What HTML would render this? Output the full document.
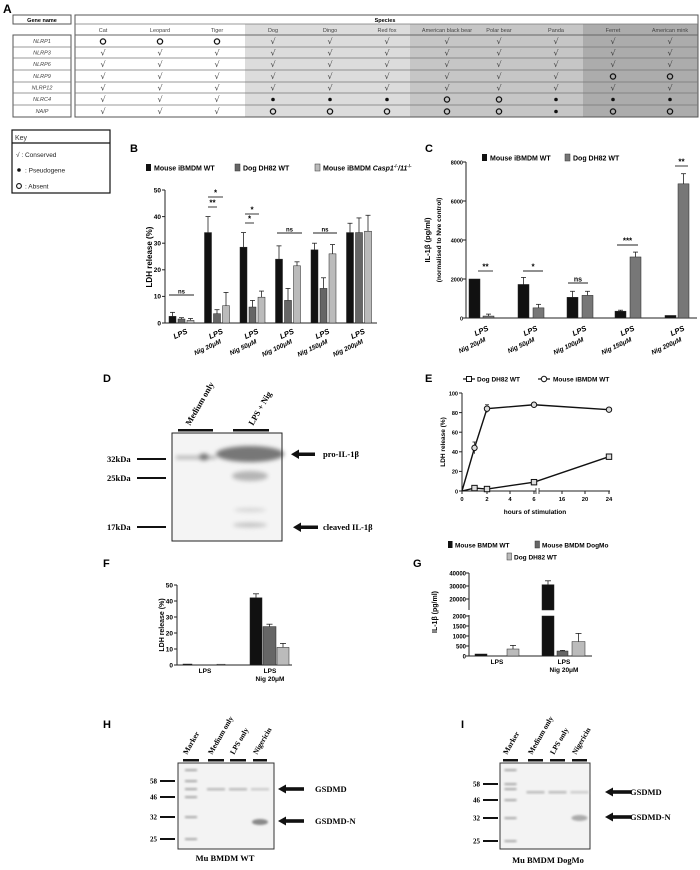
<!DOCTYPE html>
<html><head><meta charset="utf-8"><style>
html,body{margin:0;padding:0;background:#fff;width:700px;height:870px;overflow:hidden}
svg{display:block}
.s{font-family:"Liberation Sans",sans-serif}
.b{font-family:"Liberation Sans",sans-serif;font-weight:bold}
.r{font-family:"Liberation Serif",serif;font-weight:bold}
</style></head><body>
<svg width="700" height="870" viewBox="0 0 700 870" xmlns="http://www.w3.org/2000/svg">
<!-- Panel A -->
<text x="3" y="13" class="b" font-size="12">A</text>
<rect x="13" y="15" width="58" height="9" fill="#fff" stroke="#555" stroke-width="1"/>
<text x="42" y="22" class="b" font-size="5.5" text-anchor="middle">Gene name</text>
<rect x="245" y="24" width="165" height="93" fill="#dcdcdc"/>
<rect x="410" y="24" width="173" height="93" fill="#c6c6c6"/>
<rect x="583" y="24" width="115" height="93" fill="#acacac"/>
<rect x="75" y="15" width="623" height="102" fill="none" stroke="#555" stroke-width="1"/>
<line x1="75" y1="24" x2="698" y2="24" stroke="#777" stroke-width="0.8"/>
<line x1="75" y1="35" x2="698" y2="35" stroke="#666" stroke-width="1"/>
<g stroke="#777" stroke-width="0.8">
<line x1="75" y1="47" x2="698" y2="47"/><line x1="75" y1="58" x2="698" y2="58"/><line x1="75" y1="70" x2="698" y2="70"/><line x1="75" y1="82" x2="698" y2="82"/><line x1="75" y1="93" x2="698" y2="93"/><line x1="75" y1="105" x2="698" y2="105"/>
</g>
<rect x="13" y="35" width="58" height="82" fill="none" stroke="#555" stroke-width="1"/>
<g stroke="#777" stroke-width="0.8">
<line x1="13" y1="47" x2="71" y2="47"/><line x1="13" y1="58" x2="71" y2="58"/><line x1="13" y1="70" x2="71" y2="70"/><line x1="13" y1="82" x2="71" y2="82"/><line x1="13" y1="93" x2="71" y2="93"/><line x1="13" y1="105" x2="71" y2="105"/>
</g>
<text x="385" y="22" class="b" font-size="5.5" text-anchor="middle">Species</text>
<g class="s" font-size="5.5" fill="#444" text-anchor="middle">
<text x="103" y="32">Cat</text><text x="160" y="32">Leopard</text><text x="217" y="32">Tiger</text><text x="273" y="32">Dog</text><text x="330" y="32">Dingo</text><text x="387" y="32">Red fox</text><text x="447" y="32">American black bear</text><text x="499" y="32">Polar bear</text><text x="556" y="32">Panda</text><text x="613" y="32">Ferret</text><text x="670" y="32">American mink</text>
</g>
<g class="s" font-size="5.5" fill="#444" text-anchor="middle" font-style="italic">
<text x="42" y="43">NLRP1</text><text x="42" y="54.5">NLRP3</text><text x="42" y="66">NLRP6</text><text x="42" y="78">NLRP9</text><text x="42" y="89.5">NLRP12</text><text x="42" y="101">NLRC4</text><text x="42" y="113">NAIP</text>
</g>
<g id="tbl"></g>
<!-- Key -->
<rect x="12" y="130" width="98" height="63" fill="#fff" stroke="#111" stroke-width="1.2"/>
<line x1="12" y1="143" x2="110" y2="143" stroke="#111" stroke-width="1.2"/>
<text x="15" y="140" class="s" font-size="7" fill="#333">Key</text>
<text x="16" y="157" class="s" font-size="6.5" fill="#222">√  : Conserved</text>
<circle cx="19" cy="170" r="1.8" fill="#111"/><text x="25" y="172.5" class="s" font-size="6.5" fill="#222">: Pseudogene</text>
<circle cx="19" cy="186" r="2.4" fill="none" stroke="#111" stroke-width="1.1"/><text x="25" y="188.5" class="s" font-size="6.5" fill="#222">: Absent</text>

<!-- Panel B -->
<text x="130" y="152" class="b" font-size="11">B</text>
<g class="b" font-size="7">
<rect x="146" y="164" width="5" height="7" fill="#111"/><text x="154" y="170.5">Mouse iBMDM WT</text>
<rect x="235" y="164" width="5" height="7" fill="#666" stroke="#333" stroke-width="0.5"/><text x="243" y="170.5">Dog DH82 WT</text>
<rect x="315" y="164" width="5" height="7" fill="#bbb" stroke="#333" stroke-width="0.5"/><text x="323" y="170.5">Mouse iBMDM <tspan font-style="italic">Casp1</tspan><tspan font-size="4.5" dy="-3">-/-</tspan><tspan dy="3" font-style="italic">/11</tspan><tspan font-size="4.5" dy="-3">-/-</tspan></text>
</g>
<g id="pB"></g>
<text transform="translate(152,257) rotate(-90)" class="b" font-size="8" text-anchor="middle">LDH release (%)</text>

<!-- Panel C -->
<text x="425" y="152" class="b" font-size="11">C</text>
<g class="b" font-size="7">
<rect x="482" y="154" width="5" height="7" fill="#111"/><text x="490" y="160.5">Mouse iBMDM WT</text>
<rect x="565" y="154" width="5" height="7" fill="#777" stroke="#333" stroke-width="0.5"/><text x="573" y="160.5">Dog DH82 WT</text>
</g>
<g id="pC"></g>
<text transform="translate(430,240) rotate(-90)" class="b" font-size="7.5" text-anchor="middle">IL-1β (pg/ml)</text>
<text transform="translate(441,240) rotate(-90)" class="b" font-size="6.5" text-anchor="middle">(normalised to Nve control)</text>

<!-- Panel D -->
<text x="103" y="382" class="b" font-size="11">D</text>
<text transform="translate(190,426) rotate(-60)" class="r" font-size="8.5">Medium only</text>
<text transform="translate(253,426) rotate(-60)" class="r" font-size="8.5">LPS + Nig</text>
<rect x="178" y="429" width="35" height="2.5" fill="#111"/>
<rect x="233" y="429" width="36" height="2.5" fill="#111"/>
<defs>
<filter id="bl" x="-50%" y="-50%" width="200%" height="200%"><feGaussianBlur stdDeviation="2"/></filter>
<filter id="bl1" x="-50%" y="-50%" width="200%" height="200%"><feGaussianBlur stdDeviation="1"/></filter>
</defs>
<rect x="172" y="433" width="110" height="108" fill="#f4f4f4" stroke="#222" stroke-width="1"/>
<g filter="url(#bl)">
<rect x="176" y="456" width="40" height="3" fill="#aaa"/>
<ellipse cx="204" cy="457" rx="5" ry="3.5" fill="#777"/>
<ellipse cx="250" cy="454" rx="34" ry="8" fill="#777"/>
<ellipse cx="250" cy="476" rx="18" ry="5" fill="#b5b5b5"/>
<ellipse cx="250" cy="510" rx="16" ry="2" fill="#d5d5d5"/>
<ellipse cx="250" cy="525" rx="17" ry="2.5" fill="#c5c5c5"/>
</g>
<rect x="172" y="433" width="110" height="108" fill="none" stroke="#222" stroke-width="1"/>
<g class="r" font-size="8.5">
<text x="107" y="462">32kDa</text><text x="107" y="481">25kDa</text><text x="107" y="530">17kDa</text>
<text x="323" y="457">pro-IL-1β</text><text x="323" y="530">cleaved IL-1β</text>
</g>
<g fill="#111">
<rect x="137" y="458" width="29" height="2"/><rect x="137" y="477" width="29" height="2"/><rect x="137" y="526" width="29" height="2"/>
<rect x="298" y="452.5" width="17" height="3.5"/><polygon points="291,454.3 299,449.5 299,459"/>
<rect x="300" y="525.5" width="18" height="3.5"/><polygon points="293,527.3 301,522.5 301,532"/>
</g>

<!-- Panel E -->
<text x="425" y="382" class="b" font-size="11">E</text>
<g class="b" font-size="6.5">
<line x1="463" y1="379" x2="475" y2="379" stroke="#111" stroke-width="1.2"/><rect x="466.5" y="376.5" width="5" height="5" fill="#fff" stroke="#111" stroke-width="1"/><text x="477" y="381.5">Dog DH82 WT</text>
<line x1="538" y1="379" x2="550" y2="379" stroke="#111" stroke-width="1.2"/><circle cx="544" cy="379" r="2.7" fill="#fff" stroke="#111" stroke-width="1"/><text x="553" y="381.5">Mouse iBMDM WT</text>
</g>
<g id="pE"></g>
<text x="535" y="514" class="b" font-size="6.5" text-anchor="middle">hours of stimulation</text>
<text transform="translate(445,442) rotate(-90)" class="b" font-size="6.5" text-anchor="middle">LDH release (%)</text>

<!-- Panel F -->
<text x="103" y="567" class="b" font-size="11">F</text>
<g id="pF"></g>
<text transform="translate(164,625) rotate(-90)" class="b" font-size="7" text-anchor="middle">LDH release (%)</text>

<!-- Panel G -->
<text x="413" y="567" class="b" font-size="11">G</text>
<g class="b" font-size="6.5">
<rect x="448" y="541" width="4.5" height="7" fill="#111"/><text x="455" y="547.5">Mouse  BMDM WT</text>
<rect x="535" y="541" width="4.5" height="7" fill="#666" stroke="#333" stroke-width="0.5"/><text x="542" y="547.5">Mouse BMDM DogMo</text>
<rect x="507" y="553" width="4.5" height="7" fill="#bbb" stroke="#333" stroke-width="0.5"/><text x="514" y="559.5">Dog DH82 WT</text>
</g>
<g id="pG"></g>
<text transform="translate(437,612) rotate(-90)" class="b" font-size="7" text-anchor="middle">IL-1β (pg/ml)</text>

<!-- Panel H -->
<text x="103" y="728" class="b" font-size="11">H</text>
<g id="pH"></g>
<text x="225" y="861" class="r" font-size="8.5" text-anchor="middle">Mu BMDM WT</text>
<!-- Panel I -->
<text x="461" y="728" class="b" font-size="11">I</text>
<text x="548" y="863" class="r" font-size="8.5" text-anchor="middle">Mu BMDM DogMo</text>
</svg>
<script>
(function(){
var NS="http://www.w3.org/2000/svg";
function el(p,t,a,txt){var e=document.createElementNS(NS,t);for(var k in a)e.setAttribute(k,a[k]);if(txt!=null)e.textContent=txt;document.getElementById(p).appendChild(e);return e;}
// Table
var cols=[103,160,217,273,330,387,447,499,556,613,670];
var rows=[41,52.5,64,76,87.5,99,111];
var data=["OOOvvvvvvvv","vvvvvvvvvvv","vvvvvvvvvvv","vvvvvvvvvOO","vvvvvvvvvvv","vvv...OO...","vvvOOOOO.OO"];
for(var r=0;r<7;r++)for(var c=0;c<11;c++){var ch=data[r][c],x=cols[c],y=rows[r];
 if(ch=="v")el("tbl","text",{x:x,y:y+3,"font-size":"8","text-anchor":"middle","font-family":"DejaVu Sans, sans-serif",fill:"#333"},"√");
 else if(ch=="O")el("tbl","circle",{cx:x,cy:y+0.5,r:2.6,fill:"none",stroke:"#111","stroke-width":1.3});
 else el("tbl","circle",{cx:x,cy:y+0.5,r:1.8,fill:"#111"});}
function errbar(p,x,y1,y2,w){el(p,"line",{x1:x,y1:y1,x2:x,y2:y2,stroke:"#222","stroke-width":0.8});el(p,"line",{x1:x-w,y1:y2,x2:x+w,y2:y2,stroke:"#222","stroke-width":0.8});}
function bar(p,x,w,y0,y,fill){el(p,"rect",{x:x,y:y,width:w,height:y0-y,fill:fill,stroke:"#222","stroke-width":0.5});}
function ylab(p,x,y,t,fs){el(p,"text",{x:x,y:y+2.3,"text-anchor":"end","font-size":fs||6,"class":"b"},t);}
function rot(p,x,y,t,fs,ang){el(p,"text",{x:x,y:y,"text-anchor":"end","font-size":fs,"class":"b","font-style":"italic",transform:"rotate("+ang+" "+x+" "+y+")"},t);}
// B
var yB=function(v){return 323-v*2.66;};
el("pB","line",{x1:165,y1:190,x2:165,y2:323,stroke:"#222","stroke-width":1});
el("pB","line",{x1:165,y1:323,x2:377,y2:323,stroke:"#222","stroke-width":1});
for(var v=0;v<=50;v+=10){el("pB","line",{x1:162,y1:yB(v),x2:165,y2:yB(v),stroke:"#222"});ylab("pB",161,yB(v),""+v,6.5);}
var bc=[182,217.5,253,288.5,324,359.5];
var bv=[[2.5,1.5,1],[34,3.5,6.5],[28.5,6,9.7],[24,8.5,21.5],[27.5,13,26],[34,34,34.5]];
var be=[[4,2,1.7],[40,5,11.5],[34,8.5,12],[29,13,23],[30,17,29.5],[37.5,39.5,40.5]];
var bf=["#111","#666","#bbb"];
for(var g=0;g<6;g++)for(var k=0;k<3;k++){var x=bc[g]-13+k*9;bar("pB",x,7,323,yB(bv[g][k]),bf[k]);errbar("pB",x+3.5,yB(bv[g][k]),yB(be[g][k]),2.5);}
var labs=["Nig 20μM","Nig 50μM","Nig 100μM","Nig 150μM","Nig 200μM"];
rot("pB",bc[0]+6,333,"LPS",7.5,-25);
for(var g=1;g<6;g++){rot("pB",bc[g]+6,333,"LPS",7.5,-25);rot("pB",bc[g]+4,343,labs[g-1],6.5,-25);}
function sig(p,x1,x2,y,t,fs){el(p,"line",{x1:x1,y1:y,x2:x2,y2:y,stroke:"#222","stroke-width":0.9});el(p,"text",{x:(x1+x2)/2,y:y-1.5,"text-anchor":"middle","font-size":fs||7,"class":"b"},t);}
sig("pB",169,194,295,"ns",6);
sig("pB",208,223,197,"*",8);sig("pB",208,217,207,"**",8);
sig("pB",245,259,214,"*",8);sig("pB",245,254,223,"*",8);
sig("pB",277,302,233,"ns",6);sig("pB",313,337,233,"ns",6);
// C
var yC=function(v){return 318-v*0.0195;};
el("pC","line",{x1:466,y1:162,x2:466,y2:318,stroke:"#222","stroke-width":1});
el("pC","line",{x1:466,y1:318,x2:697,y2:318,stroke:"#222","stroke-width":1});
for(var v=0;v<=8000;v+=2000){el("pC","line",{x1:463,y1:yC(v),x2:466,y2:yC(v),stroke:"#222"});ylab("pC",463,yC(v),""+v,5.5);}
var cx=[[469,483],[518,533],[567,582],[615,630],[665,678]];
var cv=[[2000,100],[1720,520],[1060,1160],[350,3130],[130,6880]];
var ce=[[2000,200],[2080,700],[1370,1370],[400,3380],[150,7400]];
for(var g=0;g<5;g++){for(var k=0;k<2;k++){bar("pC",cx[g][k],11,318,yC(cv[g][k]),k?"#777":"#111");if(ce[g][k]>cv[g][k]+20)errbar("pC",cx[g][k]+5.5,yC(cv[g][k]),yC(ce[g][k]),2.5);}
 rot("pC",cx[g][0]+20,330,"LPS",7.5,-25);rot("pC",cx[g][0]+17,341,labs[g],6.5,-25);}
sig("pC",478,493,271,"**",8);sig("pC",523,543,271,"*",8);sig("pC",568,588,283,"ns",7);sig("pC",617,638,245,"***",8);sig("pC",675,688,166,"**",8);
// E
var yE=function(v){return 491-v*0.98;};
var xE={0:462,1:474.5,2:487,4:510,6:534,16:562,20:585,24:609};
el("pE","line",{x1:462,y1:393,x2:462,y2:491,stroke:"#222","stroke-width":1});
el("pE","line",{x1:462,y1:491,x2:536,y2:491,stroke:"#222","stroke-width":1});
el("pE","line",{x1:539,y1:491,x2:610,y2:491,stroke:"#222","stroke-width":1});
el("pE","line",{x1:536,y1:488,x2:536,y2:494,stroke:"#222","stroke-width":0.8});
el("pE","line",{x1:539,y1:488,x2:539,y2:494,stroke:"#222","stroke-width":0.8});
for(var v=0;v<=100;v+=20){el("pE","line",{x1:459,y1:yE(v),x2:462,y2:yE(v),stroke:"#222"});ylab("pE",458,yE(v),""+v,5.5);}
[0,2,4,6,16,20,24].forEach(function(t){el("pE","line",{x1:xE[t],y1:491,x2:xE[t],y2:494,stroke:"#222"});el("pE","text",{x:xE[t],y:501,"text-anchor":"middle","font-size":5.8,"class":"b"},""+t);});
var ms=[[0,0],[1,44],[2,84],[6,88],[24,83]],ds=[[0,0],[1,3],[2,2],[6,9],[24,35]];
function pl(s){return s.map(function(p){return xE[p[0]]+","+yE(p[1]);}).join(" ");}
el("pE","polyline",{points:pl(ms),fill:"none",stroke:"#111","stroke-width":1.4});
el("pE","polyline",{points:pl(ds),fill:"none",stroke:"#111","stroke-width":1.4});
errbar("pE",474.5,yE(38),yE(50),2);errbar("pE",487,yE(80),yE(88),2);
ms.slice(1).forEach(function(p){el("pE","circle",{cx:xE[p[0]],cy:yE(p[1]),r:2.7,fill:"#ddd",stroke:"#111","stroke-width":1});});
ds.slice(1).forEach(function(p){el("pE","rect",{x:xE[p[0]]-2.7,y:yE(p[1])-2.7,width:5.4,height:5.4,fill:"#ddd",stroke:"#111","stroke-width":1});});
// F
var yF=function(v){return 665-v*1.6;};
el("pF","line",{x1:177,y1:585,x2:177,y2:665,stroke:"#222","stroke-width":1});
el("pF","line",{x1:177,y1:665,x2:292,y2:665,stroke:"#222","stroke-width":1});
for(var v=0;v<=50;v+=10){el("pF","line",{x1:174,y1:yF(v),x2:177,y2:yF(v),stroke:"#222"});ylab("pF",173,yF(v),""+v,6.5);}
bar("pF",183,9,665,yF(0.6),"#111");bar("pF",217,8,665,yF(0.5),"#bbb");
bar("pF",250,12,665,yF(42),"#111");errbar("pF",256,yF(42),yF(44.5),3);
bar("pF",263,13,665,yF(24),"#666");errbar("pF",269.5,yF(24),yF(25.5),3);
bar("pF",277,12,665,yF(11),"#bbb");errbar("pF",283,yF(11),yF(13.5),3);
el("pF","text",{x:205,y:673,"text-anchor":"middle","font-size":6.5,"class":"b"},"LPS");
el("pF","text",{x:270,y:673,"text-anchor":"middle","font-size":6.5,"class":"b"},"LPS");
el("pF","text",{x:270,y:681,"text-anchor":"middle","font-size":6.5,"class":"b"},"Nig 20μM");
// G
var yGl=function(v){return 656-v*0.02;};var yGu=function(v){return 599-(v-20000)*0.0013;};
el("pG","line",{x1:469,y1:573,x2:469,y2:610,stroke:"#222","stroke-width":1});
el("pG","line",{x1:469,y1:615,x2:469,y2:656,stroke:"#222","stroke-width":1});
el("pG","line",{x1:469,y1:656,x2:592,y2:656,stroke:"#222","stroke-width":1});
[40000,30000,20000].forEach(function(v){el("pG","line",{x1:466,y1:yGu(v),x2:469,y2:yGu(v),stroke:"#222"});ylab("pG",466,yGu(v),""+v,6);});
[2000,1500,1000,500,0].forEach(function(v){el("pG","line",{x1:466,y1:yGl(v),x2:469,y2:yGl(v),stroke:"#222"});ylab("pG",466,yGl(v),""+v,6);});
bar("pG",475,12,656,yGl(100),"#111");
bar("pG",507,12,656,yGl(350),"#bbb");errbar("pG",513,yGl(350),yGl(530),3);
bar("pG",542,12,656,616,"#111");bar("pG",542,12,610,yGu(31000),"#111");errbar("pG",548,yGu(31000),yGu(34000),3);
bar("pG",557,11,656,yGl(250),"#666");errbar("pG",562.5,yGl(250),yGl(280),2.5);
bar("pG",572,13,656,yGl(720),"#bbb");errbar("pG",578.5,yGl(720),yGl(1130),3);
el("pG","text",{x:497,y:664,"text-anchor":"middle","font-size":6.5,"class":"b"},"LPS");
el("pG","text",{x:564,y:664,"text-anchor":"middle","font-size":6.5,"class":"b"},"LPS");
el("pG","text",{x:564,y:672,"text-anchor":"middle","font-size":6.5,"class":"b"},"Nig 20μM");
// H and I blots
function blot(ox,bx,bw,lanes,mk,arrowX,textX,gy,ny,nDark){
 var lab=["Marker","Medium only","LPS only","Nigericin"];
 for(var i=0;i<4;i++){el("pH","rect",{x:lanes[i][0],y:759,width:lanes[i][1]-lanes[i][0],height:2.5,fill:"#111"});
  el("pH","text",{x:lanes[i][0]+4,y:755,"class":"r","font-size":7.5,transform:"rotate(-60 "+(lanes[i][0]+4)+" 755)"},lab[i]);}
 el("pH","rect",{x:bx,y:763,width:bw,height:86,fill:"#f3f3f3",stroke:"#333","stroke-width":1});
 var ml=lanes[0];var mc=(ml[0]+ml[1])/2;
 [770,mk[0],789,mk[1],mk[2],mk[3]].forEach(function(y){el("pH","rect",{x:mc-6,y:y-1,width:12,height:2.2,fill:"#aaa",filter:"url(#bl1)"});});
 for(var i=1;i<4;i++){var c=(lanes[i][0]+lanes[i][1])/2;el("pH","rect",{x:c-9,y:gy-1,width:18,height:2.5,fill:i==3?"#ccc":"#bbb",filter:"url(#bl1)"});}
 var c3=(lanes[3][0]+lanes[3][1])/2;el("pH","ellipse",{cx:c3,cy:ny,rx:8,ry:3,fill:nDark,filter:"url(#bl1)"});
 var nums=["58","46","32","25"];
 for(var i=0;i<4;i++){el("pH","text",{x:ox-3,y:mk[i]+2.5,"text-anchor":"end","class":"r","font-size":7},nums[i]);el("pH","rect",{x:ox,y:mk[i]-1,width:15,height:2,fill:"#111"});}
 [[gy,"GSDMD"],[ny-1,"GSDMD-N"]].forEach(function(a){el("pH","rect",{x:arrowX+6,y:a[0]-1.8,width:20,height:3.6,fill:"#111"});el("pH","polygon",{points:arrowX+","+a[0]+" "+(arrowX+8)+","+(a[0]-4.5)+" "+(arrowX+8)+","+(a[0]+4.5),fill:"#111"});el("pH","text",{x:textX,y:a[0]+3,"class":"r","font-size":8.5},a[1]);});
}
blot(160,178,96,[[183,199],[208,224],[230,246],[253,267]],[781,797,817,839],278,315,789,822,"#888");
blot(483,500,90,[[503,518],[528,543],[550,565],[572,587]],[784,800,818,841],605,630,792,818,"#aaa");
})();
</script>
</body></html>
